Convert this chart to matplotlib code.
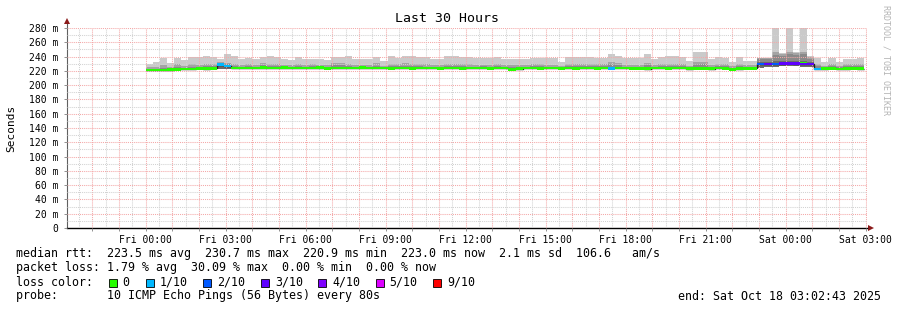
import datetime as dt
import matplotlib
matplotlib.use("Agg")
import matplotlib.pyplot as plt
import matplotlib.dates as mdates
from matplotlib.patches import Rectangle
from matplotlib.ticker import MultipleLocator, FuncFormatter
from matplotlib.transforms import offset_copy
import numpy as np

plt.rcParams['font.family'] = ['DejaVu Sans Mono']

W, H = 897, 310

# time frame (16 minute consolidated steps, data begins Fri 00:00)
view_start = dt.datetime(2025, 10, 16, 21, 2, 43)
view_end = dt.datetime(2025, 10, 18, 3, 2, 43)
first_bin = dt.datetime(2025, 10, 17, 0, 0)
step_min = 16

# rtt values in ms, one entry per step
median_ms = [
    221.2, 221.0, 221.3, 221.8, 222.3, 222.5, 222.4, 223.4, 223.2, 223.6,
    228.6, 226.8, 224.0, 224.2, 223.8, 224.1, 224.3, 223.9, 224.0, 224.4,
    224.2, 224.1, 223.8, 224.0, 224.3, 223.7, 224.2, 224.0, 223.9, 224.1,
    224.5, 223.8, 224.0, 224.2, 223.6, 224.1, 224.0, 223.5, 224.2, 223.8,
    224.0, 223.7, 224.1, 223.9, 223.5, 224.0, 223.8, 224.2, 223.6, 223.9,
    224.0, 222.3, 223.2, 223.8, 224.0, 223.6, 224.1, 223.8, 223.4, 224.0,
    223.7, 223.9, 224.2, 223.6, 223.8, 223.5, 223.8, 224.0, 223.5, 223.7,
    223.2, 223.9, 224.1, 223.6, 223.8, 224.0, 223.3, 223.7, 223.6, 223.2,
    223.8, 223.5, 222.3, 223.0, 223.7, 223.4, 229.5, 229.8, 229.6, 230.1,
    230.7, 230.2, 229.9, 229.4, 222.4, 223.0, 223.4, 222.8, 223.2, 223.6,
    223.0,
]
max_ms = [
    230.0, 232.8, 238.4, 230.5, 238.0, 235.0, 239.0, 240.0, 240.5, 240.0,
    237.0, 243.5, 240.5, 237.0, 238.0, 237.0, 240.0, 240.5, 239.0, 237.0,
    235.0, 240.0, 236.0, 237.0, 236.0, 235.0, 239.0, 240.0, 240.5, 237.0,
    236.0, 236.0, 240.0, 234.0, 240.5, 238.0, 241.2, 241.2, 239.4, 239.4,
    236.5, 236.5, 240.3, 240.3, 239.4, 239.4, 237.5, 238.0, 238.0, 239.4,
    236.5, 236.5, 236.5, 236.5, 238.4, 238.4, 237.5, 237.5, 232.8, 239.4,
    239.4, 239.4, 239.4, 238.4, 238.4, 243.0, 241.2, 237.5, 237.5, 237.5,
    244.0, 236.5, 239.4, 240.3, 240.3, 239.4, 233.8, 245.9, 245.8, 236.3,
    239.0, 238.0, 232.7, 239.8, 234.0, 234.5, 238.0, 238.5, 290.0, 245.5,
    290.0, 247.0, 290.0, 241.0, 238.0, 232.7, 238.0, 232.7, 237.0, 237.0,
    238.0,
]
p9_ms = [
    225.5, 226.0, 228.5, 225.8, 229.0, 227.5, 229.5, 228.0, 229.5, 230.0,
    232.0, 231.5, 229.0, 228.5, 229.5, 228.0, 230.5, 229.0, 229.5, 228.5,
    227.8, 230.0, 228.2, 229.0, 228.5, 228.0, 230.5, 231.0, 230.2, 228.8,
    228.5, 228.2, 230.5, 227.5, 230.0, 229.0, 230.5, 230.0, 229.5, 229.2,
    228.2, 228.0, 230.0, 229.8, 229.5, 229.0, 228.5, 228.8, 228.6, 229.5,
    228.2, 228.0, 228.2, 228.0, 229.0, 229.2, 228.6, 228.4, 227.0, 229.8,
    229.5, 230.0, 229.8, 229.0, 229.2, 232.0, 231.0, 228.6, 228.5, 228.8,
    231.5, 228.0, 229.5, 230.0, 230.2, 229.5, 227.5, 233.0, 232.5, 228.5,
    229.2, 229.0, 226.5, 229.5, 228.0, 228.2, 238.0, 238.5, 246.0, 244.0,
    246.5, 245.5, 246.0, 240.0, 230.0, 227.5, 229.5, 227.5, 229.0, 229.0,
    229.5,
]
p8_ms = [
    223.0, 223.2, 224.5, 223.6, 225.0, 224.6, 226.0, 225.2, 226.5, 227.5,
    230.2, 229.0, 226.2, 225.8, 226.5, 225.6, 227.8, 226.2, 226.8, 226.0,
    225.6, 227.0, 225.6, 226.4, 225.8, 225.2, 227.6, 228.0, 227.2, 226.0,
    226.2, 225.5, 227.5, 225.8, 227.0, 226.2, 227.5, 226.8, 226.4, 226.0,
    225.6, 225.4, 227.2, 226.8, 226.4, 226.0, 225.8, 226.4, 226.0, 226.8,
    225.8, 225.0, 225.5, 225.6, 226.2, 226.5, 226.0, 225.8, 225.0, 227.0,
    226.8, 227.2, 226.8, 226.2, 226.5, 229.0, 228.0, 226.0, 225.8, 226.0,
    228.2, 225.8, 226.8, 227.0, 227.2, 226.6, 225.2, 229.5, 229.0, 225.8,
    226.5, 226.2, 224.5, 226.5, 225.8, 225.8, 236.0, 236.5, 242.0, 241.0,
    243.0, 242.0, 243.0, 237.0, 227.5, 225.5, 226.8, 225.0, 226.2, 226.5,
    226.8,
]
p7_ms = [
    222.0, 221.8, 222.2, 222.6, 223.2, 223.3, 223.4, 224.2, 224.1, 224.5,
    229.4, 227.6, 224.8, 225.0, 224.6, 224.9, 225.1, 224.7, 224.8, 225.2,
    225.0, 224.9, 224.6, 224.8, 225.1, 224.5, 225.0, 224.8, 224.7, 224.9,
    225.3, 224.6, 224.8, 225.0, 224.4, 224.9, 224.8, 224.3, 225.0, 224.6,
    224.8, 224.5, 224.9, 224.7, 224.3, 224.8, 224.6, 225.0, 224.4, 224.7,
    224.8, 223.1, 224.0, 224.6, 224.8, 224.4, 224.9, 224.6, 224.2, 224.8,
    224.5, 224.7, 225.0, 224.4, 224.6, 225.5, 224.8, 224.8, 224.3, 224.5,
    224.6, 224.7, 224.9, 224.4, 224.6, 224.8, 224.1, 225.0, 224.8, 224.0,
    224.6, 224.3, 223.1, 223.8, 224.5, 224.2, 232.5, 233.0, 234.0, 233.5,
    234.5, 234.0, 234.5, 232.5, 224.0, 223.8, 224.2, 223.6, 224.0, 224.4,
    223.8,
]
min_ms = [
    219.8, 219.6, 219.9, 220.5, 221.0, 221.2, 221.0, 222.0, 221.8, 222.2,
    222.5, 222.8, 222.6, 222.7, 222.4, 222.6, 222.8, 222.5, 222.6, 222.9,
    222.7, 222.6, 222.3, 222.5, 222.8, 222.2, 222.7, 222.5, 222.4, 222.6,
    223.0, 222.3, 222.5, 222.7, 222.1, 222.6, 222.5, 222.0, 222.7, 222.3,
    222.5, 222.2, 222.6, 222.4, 222.0, 222.5, 222.3, 222.7, 222.1, 222.4,
    222.5, 220.9, 221.8, 222.3, 222.5, 222.1, 222.6, 222.3, 221.9, 222.5,
    222.2, 222.4, 222.7, 222.1, 222.3, 222.0, 222.3, 222.5, 222.0, 222.2,
    221.7, 222.4, 222.6, 222.1, 222.3, 222.5, 221.8, 222.2, 222.1, 221.7,
    222.3, 222.0, 220.9, 221.5, 222.2, 221.9, 224.0, 226.0, 226.0, 226.5,
    226.5, 226.2, 226.0, 225.5, 221.0, 221.5, 221.9, 221.3, 221.7, 222.1,
    221.5,
]
# lost pings out of 10 per step
loss_tenths = [0] * 101
for i, n in [(10, 1), (11, 1), (65, 1), (86, 2), (87, 3), (88, 2), (89, 3),
             (90, 3), (91, 3), (92, 3), (93, 3), (94, 1)]:
    loss_tenths[i] = n

loss_labels = ['0', '1/10', '2/10', '3/10', '4/10', '5/10', '9/10']
loss_colors = ['#26ff00', '#00b8ff', '#0059ff', '#5e00ff', '#7e00ff', '#dd00ff', '#ff0000']

med = np.array(median_ms)
edges = mdates.date2num([first_bin + dt.timedelta(minutes=step_min * i)
                         for i in range(len(med) + 1)])

fig = plt.figure(figsize=(W / 100, H / 100), dpi=100)
ax = fig.add_axes([67 / W, 82 / H, 800 / W, 200 / H])

# smoke
ax.stairs(max_ms, edges, baseline=min_ms, fill=True, color='#cacaca', lw=0, zorder=1)
ax.stairs(p9_ms, edges, baseline=min_ms, fill=True, color='#a4a4a4', lw=0, zorder=1.1)
ax.stairs(p8_ms, edges, baseline=min_ms, fill=True, color='#8a8a8a', lw=0, zorder=1.2)
ax.stairs(p7_ms, edges, baseline=min_ms, fill=True, color='#6a6a6a', lw=0, zorder=1.3)

# median, coloured by loss
ax.stairs(med, edges, baseline=None, color='#202020', lw=1.0, zorder=2.9)
half = 1.8
ax.stairs(med + half, edges, baseline=med - half, fill=True,
          color=loss_colors[0], lw=0, zorder=3)
for i, n in enumerate(loss_tenths):
    if n:
        ax.bar(edges[i], 2 * half, width=edges[i + 1] - edges[i], bottom=med[i] - half,
               align='edge', color=loss_colors[n], lw=0, zorder=3.1)

ax.set_xlim(mdates.date2num(view_start), mdates.date2num(view_end))
ax.set_ylim(0, 280)

ax.xaxis.set_major_locator(mdates.HourLocator(interval=1))
ax.xaxis.set_minor_locator(mdates.MinuteLocator(byminute=30))


def xfmt(v, pos):
    d = mdates.num2date(v)
    return d.strftime('%a %H:%M') if d.hour % 3 == 0 else ''


ax.xaxis.set_major_formatter(FuncFormatter(xfmt))
ax.yaxis.set_major_locator(MultipleLocator(20))
ax.yaxis.set_minor_locator(MultipleLocator(10))
ax.yaxis.set_major_formatter(FuncFormatter(lambda v, p: '0' if v == 0 else f'{int(v)} m'))

ax.grid(which='major', color='#f4a8a8', ls=(0, (1, 1)), lw=0.75)
ax.grid(which='minor', color='#d2d2d2', ls=(0, (1, 1)), lw=0.75)
ax.set_axisbelow(False)

ax.tick_params(which='major', length=2, width=0.7, color='#909090', labelsize=7, pad=4)
ax.tick_params(which='minor', length=0)
ax.tick_params(axis='x', pad=3)

for s in ['top', 'right']:
    ax.spines[s].set_visible(False)
ax.spines['bottom'].set_color('black')
ax.spines['bottom'].set_linewidth(1)
ax.spines['left'].set_color('#606060')
ax.spines['left'].set_linewidth(0.8)

# arrows at the axis ends
ax.plot([0, 0], [1, 1.03], transform=ax.transAxes, color='#606060', lw=0.8, clip_on=False)
ax.plot(0, 1, marker='^', ms=4.5, color='#8b1a1a', mew=0, clip_on=False,
        transform=offset_copy(ax.transAxes, fig, x=0, y=7, units='dots'))
ax.plot(1, 0, marker='>', ms=4.5, color='#8b1a1a', mew=0, clip_on=False,
        transform=offset_copy(ax.transAxes, fig, x=4, y=0, units='dots'))

ax.set_ylabel('Seconds', fontsize=8, labelpad=6)
ax.yaxis.set_label_coords(-51 / 800, 0.5)

fig.text(447 / W, 1 - 19 / H, 'Last 30 Hours', ha='center', va='center', fontsize=9.5)
fig.text(886 / W, 1 - 60 / H, 'RRDTOOL / TOBI OETIKER', rotation=270, ha='center',
         va='center', fontsize=6, color='#b4b4b4')


def ftext(x, y, s, **kw):
    fig.text(x / W, 1 - y / H, s, va='center', fontsize=8.4, **kw)


ftext(16, 254, 'median rtt:  223.5 ms avg  230.7 ms max  220.9 ms min  223.0 ms now  2.1 ms sd  106.6   am/s')
ftext(16, 268, 'packet loss: 1.79 % avg  30.09 % max  0.00 % min  0.00 % now')
ftext(16, 282, 'loss color:')
box_x = [108.7, 146.0, 203.3, 261.0, 318.3, 375.7, 433.3]
for bx, lab, col in zip(box_x, loss_labels, loss_colors):
    fig.patches.append(Rectangle((bx / W, 1 - 287 / H), 8 / W, 8 / H, transform=fig.transFigure,
                                 facecolor=col, edgecolor='black', lw=0.6))
    ftext(bx + 14, 282, lab)
ftext(16, 296, 'probe:       10 ICMP Echo Pings (56 Bytes) every 80s')
ftext(881, 296, 'end: Sat Oct 18 03:02:43 2025', ha='right')

fig.savefig('out.png', dpi=100, facecolor='white')
